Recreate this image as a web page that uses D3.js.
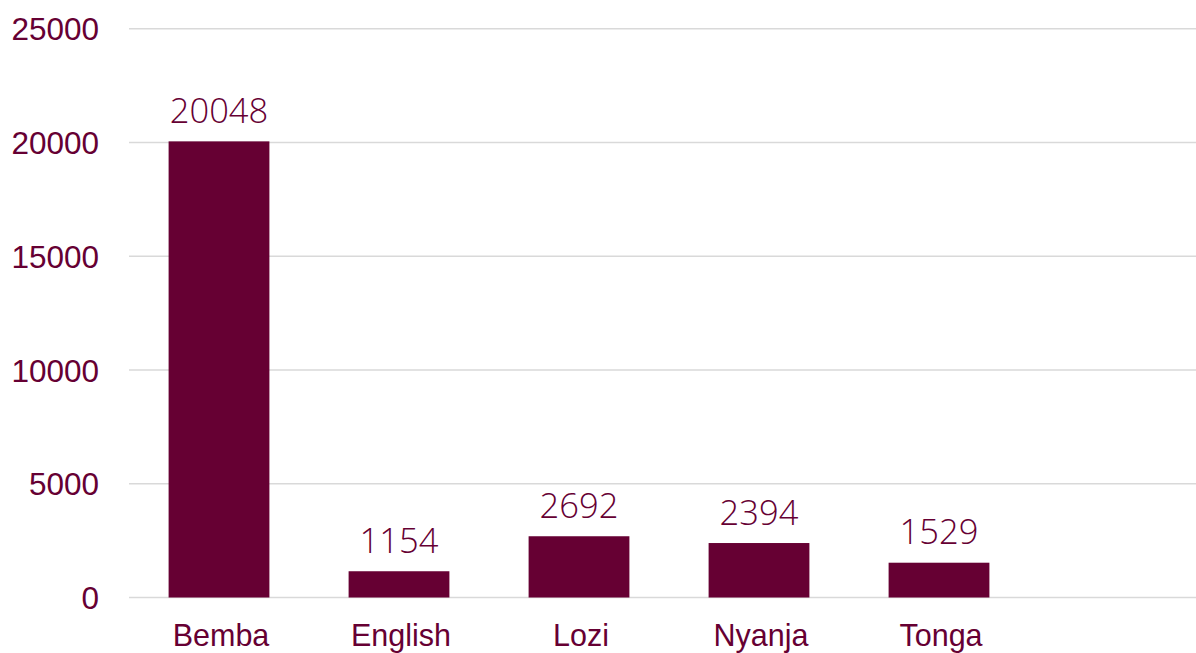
<!DOCTYPE html>
<html>
<head>
<meta charset="utf-8">
<script src="https://cdn.jsdelivr.net/npm/d3@7"></script>
<style>
  html, body { margin: 0; padding: 0; background: #fff; }
  svg { display: block; }
</style>
</head>
<body>
<svg id="chart" width="1196" height="653"></svg>
<script>
const categories = ["Bemba", "English", "Lozi", "Nyanja", "Tonga"];
const values = [20048, 1154, 2692, 2394, 1529];
const yTicks = [0, 5000, 10000, 15000, 20000, 25000];

const W = 1196, H = 653;
const mLeft = 129, mRight = 1196, mTop = 28.7, mBottom = 597.5;
const color = "#660033";

const svg = d3.select("#chart");

const x = d3.scaleBand()
  .domain(categories)
  .range([mLeft, mLeft + 900])
  .paddingInner(0.44)
  .paddingOuter(0.22);

const y = d3.scaleLinear().domain([0, 25000]).range([mBottom, mTop]);

// gridlines
svg.append("g").selectAll("line").data(yTicks).join("line")
  .attr("x1", mLeft).attr("x2", mRight)
  .attr("y1", d => y(d)).attr("y2", d => y(d))
  .attr("stroke", "#d9d9d9").attr("stroke-width", 1.5);

// y axis labels
const yAxis = d3.axisLeft(y).tickValues(yTicks).tickSize(0).tickPadding(0).tickFormat(d3.format("d"));
const ya = svg.append("g").attr("transform", "translate(99,0)").call(yAxis);
ya.select(".domain").remove();
ya.selectAll("text")
  .attr("fill", color)
  .attr("font-family", "'Liberation Sans', Arial, sans-serif")
  .attr("font-size", 31.5)
  .attr("dy", "0.35em");

// bars
svg.append("g").selectAll("rect").data(values).join("rect")
  .attr("x", (d, i) => x(categories[i]))
  .attr("width", x.bandwidth())
  .attr("y", d => y(d))
  .attr("height", d => y(0) - y(d))
  .attr("fill", color);

// data labels
svg.append("g").selectAll("text").data(values).join("text")
  .attr("x", (d, i) => x(categories[i]) + x.bandwidth() / 2)
  .attr("y", d => y(d) - 18.5)
  .attr("text-anchor", "middle")
  .attr("fill", color)
  .attr("font-family", "'Open Sans', sans-serif")
  .attr("font-weight", 300)
  .attr("font-size", 34.5)
  .text(d => d);

// x axis labels
const xAxis = d3.axisBottom(x).tickSize(0).tickPadding(0);
const xa = svg.append("g").attr("transform", `translate(2,${mBottom})`).call(xAxis);
xa.select(".domain").remove();
xa.selectAll("text")
  .attr("fill", color)
  .attr("font-family", "'Liberation Sans', Arial, sans-serif")
  .attr("font-size", 30.5)
  .attr("dy", null)
  .attr("y", 48.5);
</script>
</body>
</html>
